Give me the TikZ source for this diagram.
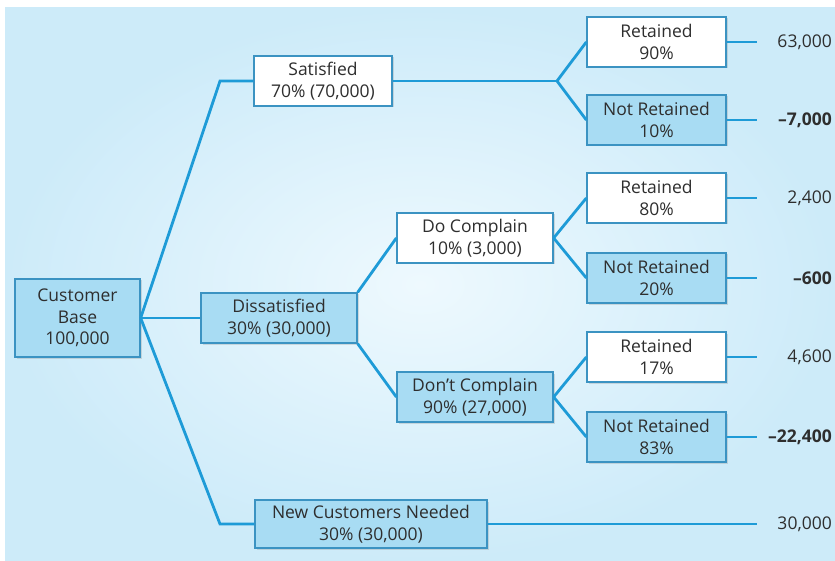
\documentclass[tikz,border=0pt]{standalone}
\usepackage{fontspec}
\setmainfont{Open Sans}
\usetikzlibrary{shadows}

\definecolor{bgblue}{HTML}{CDEBF9}
\definecolor{bglight}{HTML}{EEF9FE}
\definecolor{boxblue}{HTML}{A8DCF3}
\definecolor{edgeblue}{HTML}{3B93C2}
\definecolor{linkblue}{HTML}{1E9BD7}
\definecolor{txt}{HTML}{2E2E2E}

\tikzset{
  box/.style={draw=edgeblue, line width=1.3pt, fill=white, text=txt, align=center,
    inner sep=0pt, minimum height=50pt,
    font=\fontsize{17.5}{21.5}\selectfont,
    drop shadow={opacity=0.25, shadow xshift=1.5pt, shadow yshift=-1.5pt}},
  bluebox/.style={box, fill=boxblue},
  link/.style={draw=linkblue, line width=2.8pt, line join=miter},
  val/.style={anchor=east, text=txt, inner sep=0pt, font=\fontsize{17.5}{21}\selectfont}
}

\begin{document}
\begin{tikzpicture}[x=1pt,y=-1pt]

\useasboundingbox (0,0) rectangle (835,561);

% background
\fill[white] (0,0) rectangle (835,561);
\shade[inner color=bglight, outer color=bgblue] (5,8) rectangle (835,561);

% boxes
\node[bluebox, minimum width=125pt, minimum height=78pt] (base) at (77.5,318) {Customer\\Base\\100,000};
\node[box, minimum width=138pt] (sat) at (323,81) {Satisfied\\70\% (70,000)};
\node[bluebox, minimum width=156pt] (dis) at (279,318) {Dissatisfied\\30\% (30,000)};
\node[bluebox, minimum width=232pt, minimum height=48pt] (new) at (371,524) {New Customers Needed\\30\% (30,000)};

\node[box, minimum width=156pt] (doc) at (475,238) {Do Complain\\10\% (3,000)};
\node[bluebox, minimum width=156pt] (dont) at (475,397) {Don’t Complain\\90\% (27,000)};

\node[box, minimum width=139pt] (r1) at (656.5,42) {Retained\\90\%};
\node[bluebox, minimum width=139pt] (n1) at (656.5,120) {Not Retained\\10\%};
\node[box, minimum width=139pt] (r2) at (656.5,198) {Retained\\80\%};
\node[bluebox, minimum width=139pt] (n2) at (656.5,278) {Not Retained\\20\%};
\node[box, minimum width=139pt] (r3) at (656.5,357) {Retained\\17\%};
\node[bluebox, minimum width=139pt] (n3) at (656.5,437) {Not Retained\\83\%};

% outcomes
\node[val] (v1) at (832,42) {63,000};
\node[val] (v2) at (832,120) {\textbf{--7,000}};
\node[val] (v3) at (832,198) {2,400};
\node[val] (v4) at (832,278) {\textbf{--600}};
\node[val] (v5) at (832,357) {4,600};
\node[val] (v6) at (832,437) {\textbf{--22,400}};
\node[val] (v7) at (832,524) {30,000};

% branches
\coordinate (sk) at (220,81);
\coordinate (nk) at (220,524);
\coordinate (sf) at (557,81);

\draw[link] (base.east) -- (sk) -- (sat.west);
\draw[link] (base.east) -- (dis.west);
\draw[link] (base.east) -- (nk) -- (new.west);

\draw[link] (sat.east) -- (sf);
\draw[link] (sf) -- (r1.west);
\draw[link] (sf) -- (n1.west);

\draw[link] (dis.north east) -- (doc.west);
\draw[link] (dis.south east) -- (dont.west);

\draw[link] (doc.east) -- (r2.west);
\draw[link] (doc.east) -- (n2.west);
\draw[link] (dont.east) -- (r3.west);
\draw[link] (dont.east) -- (n3.west);

\foreach \b/\y in {r1/42, n1/120, r2/198, n2/278, r3/357, n3/437, new/524} {
  \coordinate (e\b) at (757,\y);
  \draw[link] (\b.east) -- (e\b);
}

\end{tikzpicture}
\end{document}
